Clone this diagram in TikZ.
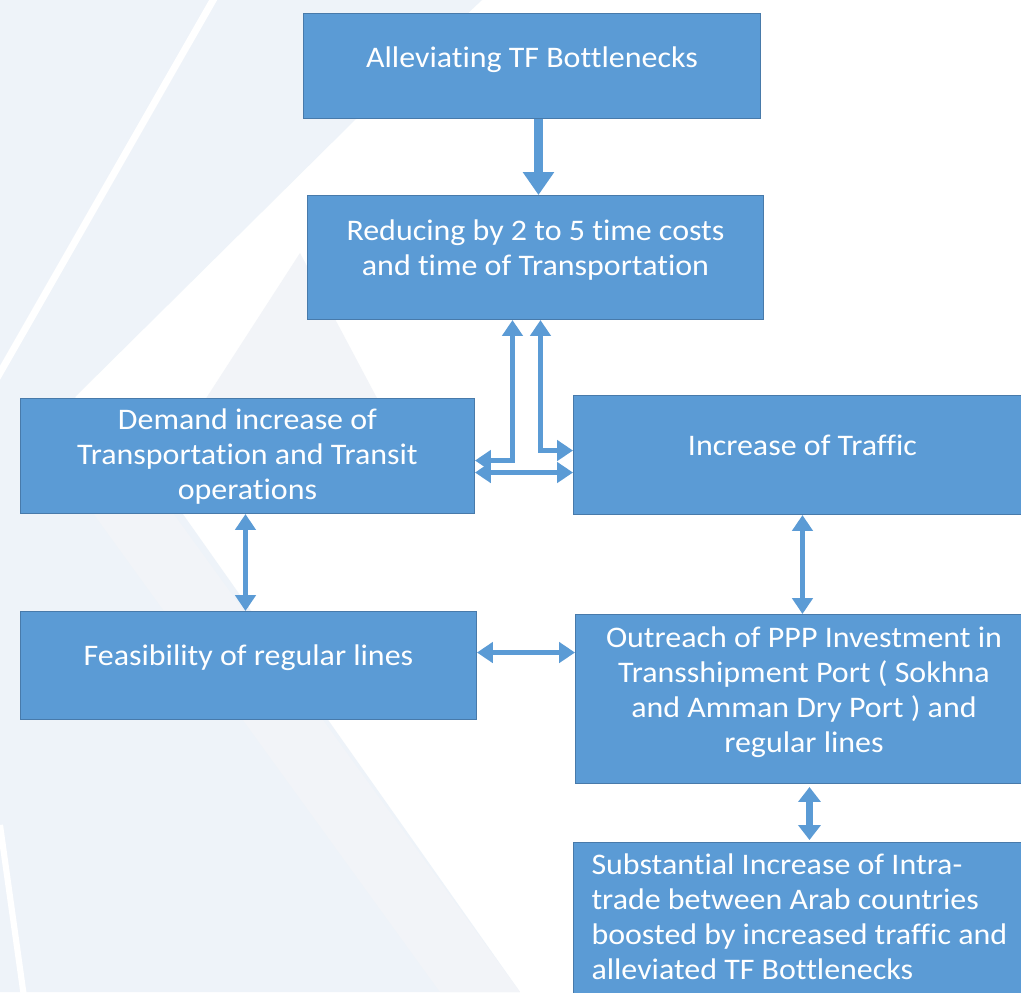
\documentclass[tikz,border=0pt]{standalone}
\usepackage{fontspec}
\setmainfont{Carlito}[FakeStretch=1.07, Ligatures=CommonOff]
\usetikzlibrary{positioning, arrows.meta}
\definecolor{boxblue}{RGB}{91,155,213}
\definecolor{boxline}{RGB}{72,122,170}
\definecolor{bgtint}{RGB}{238,243,249}
\definecolor{bgband}{RGB}{242,244,248}

\tikzset{
    block/.style={draw=boxline, line width=0.6pt, fill=boxblue, text=white,
        inner sep=0pt, anchor=north west,
        font=\fontsize{17}{19.9}\selectfont},
    link/.style={boxblue, line width=2.85pt, <->},
}

\begin{document}
\begin{tikzpicture}[x=0.02cm, y=-0.02cm, >={Triangle[width=11.4pt,length=9pt]}]
    % backdrop %
    \useasboundingbox (0,0) rectangle (1021,992);
    \fill[white] (0,0) rectangle (1021,992);
    \fill[bgtint] (0,0) -- (482,0) -- (357,118) -- (75,397) -- (173,500)
        -- (520,992) -- (0,992) -- cycle;
    \fill[bgband] (300,253) -- (205,400) -- (378,400) -- cycle;
    \fill[bgband] (93,513) -- (173,513) -- (520,992) -- (440,992) -- cycle;
    \draw[white, line width=4pt] (216,-5) -- (-3,378);
    \draw[white, line width=3.5pt] (0,825) -- (24,997);

    \node[block, text height=1.08cm, text depth=1.02cm] (alleviate) at (303,13) {
        \begin{minipage}[t]{9.14cm}\centering
            Alleviating TF Bottlenecks
        \end{minipage}
    };

    \node[block, text height=0.9cm, text depth=1.58cm] (reduce) at (307,195) {
        \begin{minipage}[t]{9.12cm}\centering
            Reducing by 2 to 5 time costs\\
            and time of Transportation
        \end{minipage}
    };

    \node[block, text height=0.62cm, text depth=1.68cm] (demand) at (20,398) {
        \begin{minipage}[t]{9.08cm}\centering
            Demand increase of\\
            Transportation and Transit\\
            operations
        \end{minipage}
    };

    \node[block, text height=1.2cm, text depth=1.18cm] (traffic) at (573,395) {
        \begin{minipage}[t]{9.16cm}\centering
            Increase of Traffic
        \end{minipage}
    };

    \node[block, text height=1.08cm, text depth=1.08cm] (feasible) at (20,611) {
        \begin{minipage}[t]{9.12cm}\centering
            Feasibility of regular lines
        \end{minipage}
    };

    \node[block, text height=0.66cm, text depth=2.72cm] (outreach) at (575,614) {
        \begin{minipage}[t]{9.14cm}\centering
            Outreach of PPP Investment in\\
            Transshipment Port ( Sokhna\\
            and Amman Dry Port ) and\\
            regular lines
        \end{minipage}
    };

    \node[block, inner xsep=0.36cm, text height=0.64cm, text depth=2.72cm] (intratrade) at (573,842) {
        \begin{minipage}[t]{8.44cm}\raggedright
            Substantial Increase of Intra-\\
            trade between Arab countries\\
            boosted by increased traffic and\\
            alleviated TF Bottlenecks
        \end{minipage}
    };

    % arrows %
    \draw[boxblue, line width=5.5pt, -{Triangle[width=17pt,length=13pt]}]
        ([xshift=0.13cm]alleviate.south) -- ([xshift=0.13cm]alleviate.south |- reduce.north);
    \draw[link] ([yshift=-0.09cm]demand.east) -| ([xshift=-0.46cm]reduce.south);
    \draw[link] ([xshift=0.1cm]reduce.south) |- ([yshift=0.09cm]traffic.west);
    \draw[link] ([yshift=-0.33cm]demand.east) -- ([yshift=-0.33cm]demand.east -| traffic.west);
    \draw[link] ([xshift=-0.04cm]demand.south) -- ([xshift=-0.04cm]demand.south |- feasible.north);
    \draw[link] ([yshift=0.26cm]feasible.east) -- ([yshift=0.26cm]feasible.east -| outreach.west);
    \draw[link] (traffic.south) -- (traffic.south |- outreach.north);
    \draw[link, line width=3.8pt, >={Triangle[width=12.5pt,length=8.5pt]}]
        ([xshift=0.11cm, yshift=-0.06cm]outreach.south)
        -- ([xshift=0.11cm, yshift=0.04cm]outreach.south |- intratrade.north);
\end{tikzpicture}
\end{document}
